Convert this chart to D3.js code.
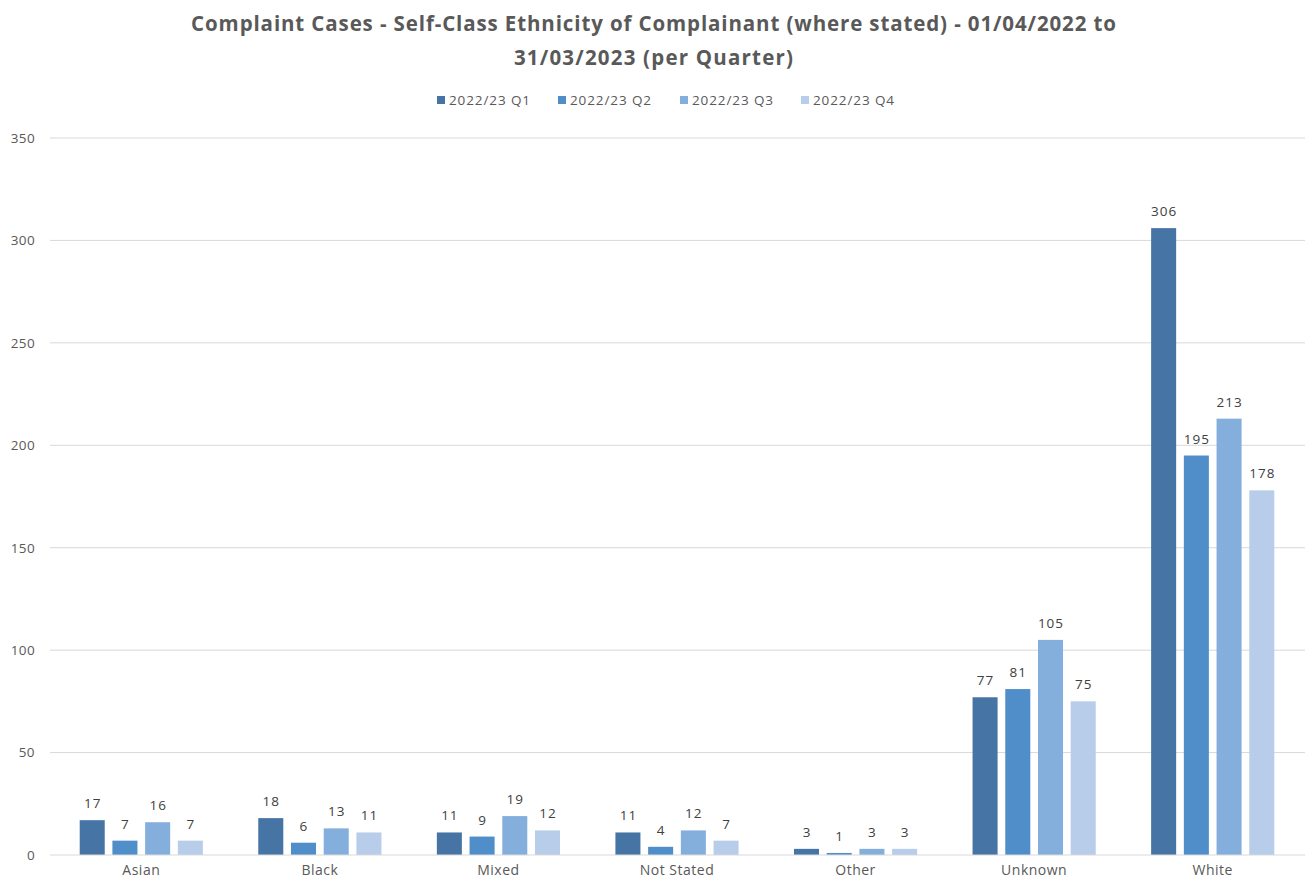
<!DOCTYPE html>
<html><head><meta charset="utf-8">
<script src="https://cdn.jsdelivr.net/npm/d3@7"></script>
<style>body{margin:0;background:#fff;}svg{display:block;}</style>
</head><body>
<svg id="c" width="1308" height="887"></svg>
<script>
const categories = ["Asian","Black","Mixed","Not Stated","Other","Unknown","White"];
const seriesNames = ["2022/23 Q1","2022/23 Q2","2022/23 Q3","2022/23 Q4"];
const q1 = [17,18,11,11,3,77,306];
const q2 = [7,6,9,4,1,81,195];
const q3 = [16,13,19,12,3,105,213];
const q4 = [7,11,12,7,3,75,178];
const yTicks = [0,50,100,150,200,250,300,350];
const colors = ["#4674a5","#4f8ec9","#84afdd","#b7cde9"];
const titleLines = ["Complaint Cases - Self-Class Ethnicity of Complainant (where stated) - 01/04/2022 to","31/03/2023 (per Quarter)"];

const series = [q1,q2,q3,q4];
const font = "'Open Sans', 'Noto Sans', sans-serif";
const svg = d3.select("#c");
const m = {left:52, right:1302, top:138, bottom:855};

const x0 = d3.scaleBand().domain(categories).range([m.left,m.right]).paddingInner(0).paddingOuter(0);
const x1 = d3.scaleBand().domain(d3.range(4)).range([27.7, x0.bandwidth()-27.7]).paddingInner(0.235).paddingOuter(0);
const y = d3.scaleLinear().domain([0,350]).range([m.bottom,m.top]);

// gridlines
svg.append("g").selectAll("line").data(yTicks.filter(d=>d>0)).join("line")
  .attr("x1",m.left-2).attr("x2",m.right+3).attr("y1",d=>y(d)).attr("y2",d=>y(d))
  .attr("stroke","#d9d9d9").attr("stroke-width",1);

// y axis labels
const yAxis = d3.axisLeft(y).tickValues(yTicks).tickSize(0).tickPadding(0);
const ya = svg.append("g").attr("transform",`translate(${35},0)`).call(yAxis);
ya.select(".domain").remove();
ya.selectAll("text").attr("font-family",font).attr("font-size",13.5).attr("letter-spacing",0.4).attr("fill","#595959");

// bars
const groups = svg.append("g").selectAll("g").data(categories).join("g")
  .attr("transform",d=>`translate(${x0(d)},0)`);
groups.selectAll("rect").data((d,i)=>series.map((s,k)=>({k, v:s[i]}))).join("rect")
  .attr("x",d=>x1(d.k)).attr("width",x1.bandwidth())
  .attr("y",d=>y(d.v)).attr("height",d=>y(0)-y(d.v))
  .attr("fill",d=>colors[d.k]);
groups.selectAll("text").data((d,i)=>series.map((s,k)=>({k, v:s[i]}))).join("text")
  .attr("x",d=>x1(d.k)+x1.bandwidth()/2+0.5).attr("y",d=>y(d.v)-12)
  .attr("text-anchor","middle").attr("font-family",font).attr("font-size",13.5)
  .attr("letter-spacing",1).attr("fill","#404040").text(d=>d.v);

// baseline
svg.append("line").attr("x1",m.left-2).attr("x2",m.right+3).attr("y1",y(0)).attr("y2",y(0))
  .attr("stroke","#d9d9d9").attr("stroke-width",1);

// x axis labels
const xAxis = d3.axisBottom(x0).tickSize(0).tickPadding(0);
const xa = svg.append("g").attr("transform",`translate(0,${y(0)+10})`).call(xAxis);
xa.select(".domain").remove();
xa.selectAll("text").attr("font-family",font).attr("font-size",14).attr("letter-spacing",0.5)
  .attr("fill","#595959").attr("dy","0.71em");

// title
const tt = svg.append("g");
tt.selectAll("text").data(titleLines).join("text")
  .attr("x",654).attr("y",(d,i)=>31+i*34).attr("text-anchor","middle")
  .attr("font-family",font).attr("font-weight","bold").attr("font-size",20.5)
  .attr("letter-spacing",(d,i)=>i===0?0.88:1.2).attr("fill","#595959").text(d=>d);

// legend
const legX = [437,558,680,801];
const lg = svg.append("g").selectAll("g").data(seriesNames).join("g")
  .attr("transform",(d,i)=>`translate(${legX[i]},100)`);
lg.append("rect").attr("x",0).attr("y",-4).attr("width",8).attr("height",8).attr("fill",(d,i)=>colors[i]);
lg.append("text").attr("x",12).attr("y",5).attr("font-family",font).attr("font-size",13.5)
  .attr("letter-spacing",0.9).attr("fill","#595959").text(d=>d);
</script>
</body></html>
